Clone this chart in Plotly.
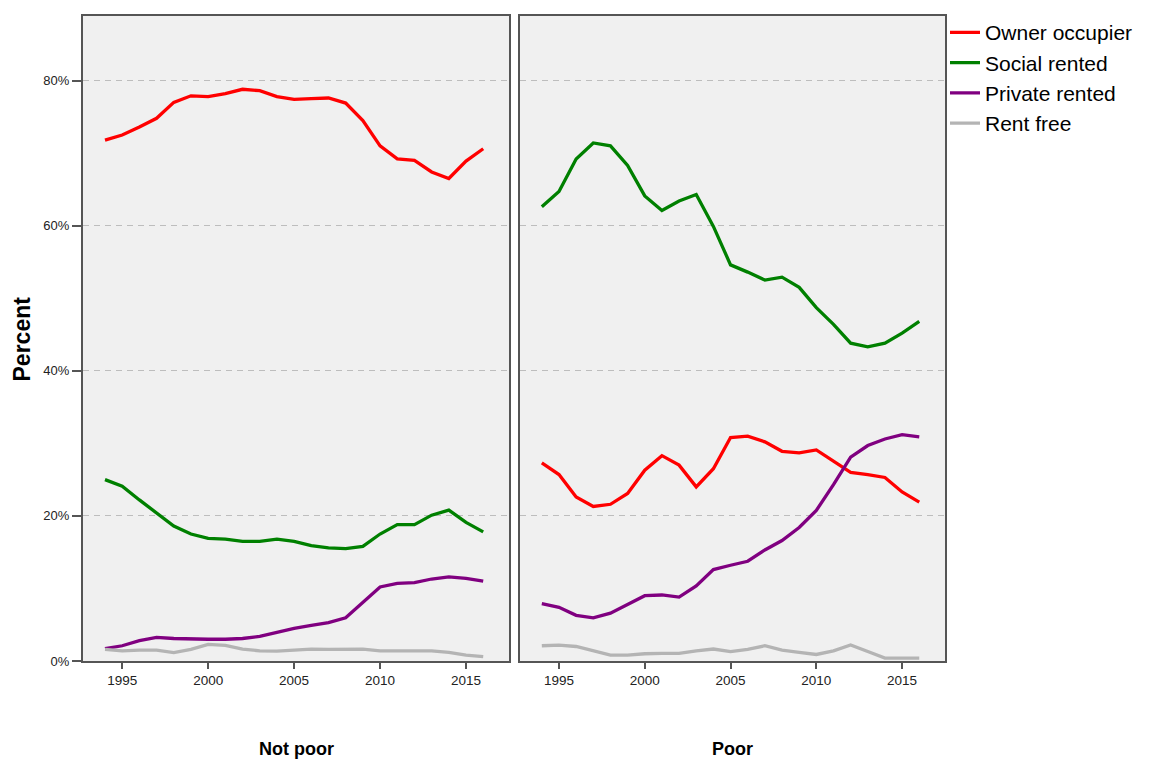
import plotly.graph_objects as go

years = list(range(1994, 2017))

# Tenure shares (%) for households that are not in poverty
not_poor_owner = [71.8, 72.5, 73.6, 74.8, 77.0, 77.9, 77.8, 78.2, 78.8, 78.6, 77.8, 77.4,
                  77.5, 77.6, 76.9, 74.5, 71.0, 69.2, 69.0, 67.4, 66.5, 68.9, 70.6]
not_poor_social = [25.0, 24.1, 22.2, 20.4, 18.6, 17.5, 16.9, 16.8, 16.5, 16.5, 16.8, 16.5,
                   15.9, 15.6, 15.5, 15.8, 17.5, 18.8, 18.8, 20.1, 20.8, 19.1, 17.8]
not_poor_private = [1.7, 2.1, 2.8, 3.25, 3.1, 3.0, 3.0, 3.0, 3.1, 3.4, 4.0, 4.5,
                    4.9, 5.3, 5.95, 8.0, 10.2, 10.7, 10.8, 11.3, 11.6, 11.4, 11.0]
not_poor_free = [1.6, 1.4, 1.5, 1.5, 1.15, 1.6, 2.3, 2.15, 1.65, 1.4, 1.35, 1.5,
                 1.65, 1.6, 1.65, 1.65, 1.4, 1.4, 1.4, 1.4, 1.2, 0.8, 0.6]

# Tenure shares (%) for households in poverty
poor_owner = [27.3, 25.7, 22.6, 21.3, 21.6, 23.1, 26.3, 28.3, 27.0, 24.0, 26.5, 30.8,
              31.0, 30.2, 28.9, 28.7, 29.1, 27.5, 26.0, 25.7, 25.3, 23.3, 21.9]
poor_social = [62.6, 64.7, 69.2, 71.4, 71.0, 68.3, 64.1, 62.1, 63.4, 64.3, 59.9, 54.6,
               53.6, 52.5, 52.9, 51.5, 48.7, 46.4, 43.8, 43.3, 43.8, 45.2, 46.8]
poor_private = [7.9, 7.4, 6.3, 5.95, 6.6, 7.8, 9.0, 9.1, 8.8, 10.35, 12.6, 13.2,
                13.75, 15.3, 16.6, 18.4, 20.75, 24.3, 28.1, 29.7, 30.6, 31.2, 30.9]
poor_free = [2.1, 2.2, 2.0, 1.4, 0.8, 0.8, 1.0, 1.05, 1.05, 1.4, 1.65, 1.3,
             1.6, 2.1, 1.5, 1.2, 0.9, 1.4, 2.2, 1.3, 0.4, 0.4, 0.4]

tenure_names = ["Owner occupier", "Social rented", "Private rented", "Rent free"]
tenure_colors = ["#ff0000", "#008000", "#800080", "#b4b4b4"]

panel_titles = ["Not poor", "Poor"]
y_tick_values = [0, 20, 40, 60, 80]
y_tick_labels = ["0%", "20%", "40%", "60%", "80%"]
x_tick_values = [1995, 2000, 2005, 2010, 2015]

panels = [
    ("x", "y", [not_poor_owner, not_poor_social, not_poor_private, not_poor_free]),
    ("x2", "y2", [poor_owner, poor_social, poor_private, poor_free]),
]

FONT = "Liberation Sans, Arial, sans-serif"

fig = go.Figure()
for p, (xa, ya, series) in enumerate(panels):
    for name, color, vals in zip(tenure_names, tenure_colors, series):
        fig.add_trace(go.Scatter(
            x=years, y=vals, mode="lines", name=name,
            line=dict(color=color, width=3.3),
            xaxis=xa, yaxis=ya,
            showlegend=(p == 0),
            legendgroup=name,
        ))

border = "#555555"
x_common = dict(
    range=[1992.72, 2017.5], tickvals=x_tick_values, ticks="outside", ticklen=6,
    tickwidth=1.5, tickcolor=border, showline=True, mirror=True, linecolor=border,
    linewidth=2, showgrid=False, zeroline=False,
    tickfont=dict(family=FONT, size=13.5, color="#222222"),
)
y_common = dict(
    range=[0, 88.9], tickvals=y_tick_values, showline=True, mirror=True,
    linecolor=border, linewidth=2, showgrid=True, gridcolor="#bdbdbd",
    griddash="6px,5px", gridwidth=1.3, zeroline=False,
)

fig.update_layout(
    width=1154, height=760,
    margin=dict(l=83, r=209, t=14, b=99),
    paper_bgcolor="white", plot_bgcolor="#f0f0f0",
    font=dict(family=FONT, color="black"),
    xaxis=dict(domain=[0, 0.4942], anchor="y", **x_common),
    xaxis2=dict(domain=[0.5068, 1], anchor="y2", **x_common),
    yaxis=dict(domain=[0, 1], anchor="x", ticks="outside", ticklen=9,
               tickwidth=1.5, tickcolor=border, ticktext=y_tick_labels,
               tickfont=dict(family=FONT, size=13, color="#222222"), **y_common),
    yaxis2=dict(domain=[0, 1], anchor="x2", matches="y", showticklabels=False,
                ticks="", **y_common),
    legend=dict(x=1.0, y=1.006, xanchor="left", yanchor="top",
                font=dict(family=FONT, size=21, color="black"),
                bgcolor="rgba(0,0,0,0)", borderwidth=0, tracegroupgap=0),
    showlegend=True,
)

# Panel titles beneath each x axis
for title, xa in zip(panel_titles, ["xaxis", "xaxis2"]):
    d = fig.layout[xa].domain
    fig.add_annotation(
        text=f"<b>{title}</b>", xref="paper", yref="paper",
        x=(d[0] + d[1]) / 2, y=-0.136, xanchor="center", yanchor="middle",
        showarrow=False, font=dict(family=FONT, size=18, color="black"),
    )

# Shared y axis title
fig.add_annotation(
    text="<b>Percent</b>", xref="paper", yref="paper", x=-0.0708, y=0.5,
    xanchor="center", yanchor="middle", textangle=-90, showarrow=False,
    font=dict(family=FONT, size=23, color="black"),
)

fig.write_html("out.html")
